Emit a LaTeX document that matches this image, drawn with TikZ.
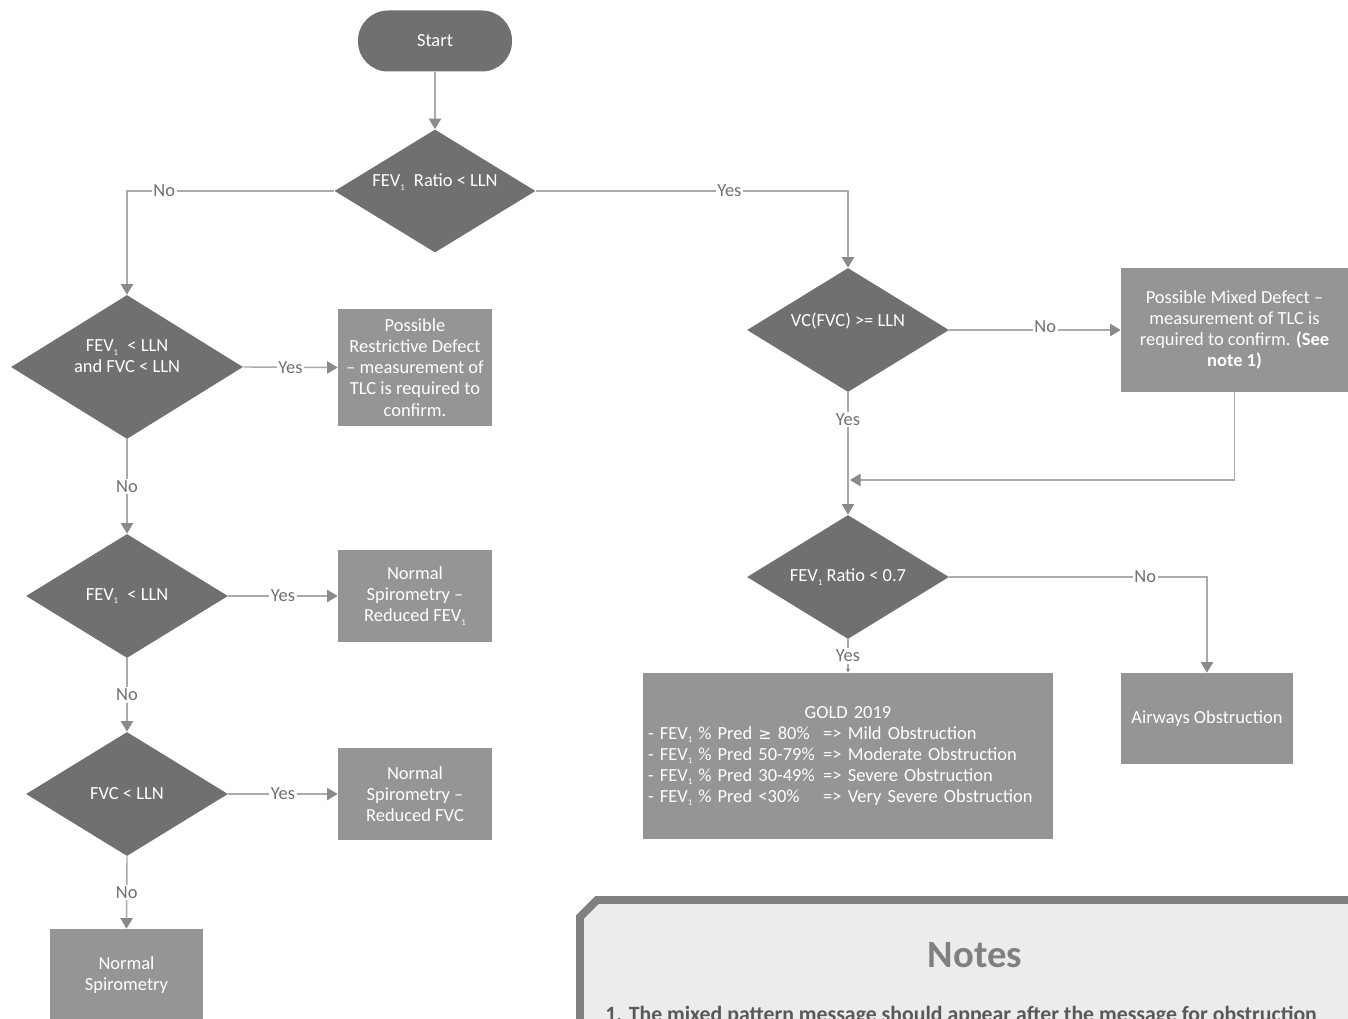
\documentclass[tikz,border=0pt]{standalone}
\usepackage{fontspec}
\setmainfont{Carlito}
\newfontfamily\symfont{DejaVu Sans}
\usetikzlibrary{arrows.meta, shapes.geometric, positioning}
\definecolor{DiamondGray}{RGB}{112,112,112}
\definecolor{BoxGray}{RGB}{149,149,149}
\definecolor{LineGray}{RGB}{170,170,170}
\definecolor{TipGray}{RGB}{138,138,138}
\definecolor{LabelGray}{RGB}{112,112,112}
\definecolor{NoteFill}{RGB}{236,236,236}
\definecolor{NoteEdge}{RGB}{128,128,128}
\definecolor{NoteText}{RGB}{89,89,89}
\newcommand{\fev}{FEV\raisebox{-0.4ex}{\fontsize{5}{5}\selectfont 1}}
\newcommand{\golditem}[2]{- \makebox[93pt][l]{\fev\ \% Pred #1}=> #2}

\begin{document}
\begin{tikzpicture}[
    font=\fontsize{10.5}{12}\selectfont,
    terminal/.style={rectangle, rounded corners=0.6cm, fill=DiamondGray, text=white,
      minimum width=3.08cm, minimum height=1.22cm},
    decision/.style={diamond, fill=DiamondGray, text=white, align=center, inner sep=0pt,
      shape aspect=1.63, minimum width=4.04cm, minimum height=2.48cm},
    result/.style={rectangle, fill=BoxGray, text=white, align=center, inner sep=2pt,
      minimum width=3.08cm, minimum height=1.84cm},
    arrow/.style={-{Triangle[width=7pt,length=6pt,color=TipGray]}, LineGray, line width=0.8pt},
    lbl/.style={fill=white, text=LabelGray, inner sep=1pt}
  ]
  \useasboundingbox (0,0) rectangle (26.96,-20.38);
  \clip (0,0) rectangle (26.96,-20.38);
  \fill[white] (0,0) rectangle (26.96,-20.38);

  % left column
  \node[terminal] (start) at (8.70,-0.82) {Start};
  \node[decision, minimum width=4.02cm, minimum height=2.46cm] (ratio) at (8.70,-3.82)
    {\fev\enspace Ratio < LLN\\\mbox{}};
  \node[decision, minimum width=4.64cm, minimum height=2.88cm] (both) at (2.54,-7.34)
    {\fev\enspace < LLN\\and FVC < LLN\\\mbox{}};
  \node[result, minimum height=2.34cm] (restrict) at (8.30,-7.35)
    {Possible\\Restrictive Defect\\– measurement of\\TLC is required to\\confirm.};
  \node[decision] (fevlow) at (2.54,-11.92) {\fev\enspace < LLN};
  \node[result] (redfev) at (8.30,-11.92) {Normal\\Spirometry –\\Reduced \fev};
  \node[decision] (fvclow) at (2.54,-15.88) {FVC < LLN};
  \node[result] (redfvc) at (8.30,-15.88) {Normal\\Spirometry –\\Reduced FVC};
  \node[result, minimum width=3.06cm] (normal) at (2.53,-19.50) {Normal\\Spirometry};

  % right column
  \node[decision] (vc) at (16.96,-6.60) {VC(FVC) >= LLN\\\mbox{}};
  \node[result, minimum width=4.54cm, minimum height=2.48cm] (mixed) at (24.69,-6.60)
    {Possible Mixed Defect –\\measurement of TLC is\\required to confirm. \textbf{(See}\\\textbf{note 1)}};
  \coordinate (join) at (17.00,-9.60);
  \node[decision] (ratio7) at (16.96,-11.54) {\fev\ Ratio < 0.7};
  \node[result, minimum width=8.2cm, minimum height=3.32cm, text width=8.0cm, align=left] (gold) at (16.96,-15.12)
    {\makebox[8.0cm]{GOLD 2019}\\
     \golditem{{\symfont\small ≥} 80\%}{Mild Obstruction}\\
     \golditem{50-79\%}{Moderate Obstruction}\\
     \golditem{30-49\%}{Severe Obstruction}\\
     \golditem{<30\%}{Very Severe Obstruction}};
  \node[result, minimum width=3.44cm, minimum height=1.82cm] (airways) at (24.14,-14.37) {Airways Obstruction};

  % connectors
  \draw[arrow] (start) -- (ratio);
  \draw[arrow] (ratio.west) -| node[lbl, pos=0.41] {No} (both.north);
  \draw[arrow] (ratio.east) -| node[lbl, pos=0.31] {Yes} (vc.north);
  \draw[arrow] (both.east) -- node[lbl] {Yes} (restrict.west);
  \draw[arrow] (both.south) -- node[lbl] {No} (fevlow.north);
  \draw[arrow] (fevlow.east) -- node[lbl] {Yes} (redfev.west);
  \draw[arrow] (fevlow.south) -- node[lbl] {No} (fvclow.north);
  \draw[arrow] (fvclow.east) -- node[lbl] {Yes} (redfvc.west);
  \draw[arrow] (fvclow.south) -- node[lbl] {No} (normal.north);
  \draw[arrow] (vc.east) -- node[lbl, pos=0.56, yshift=2pt] {No} (mixed.west);
  \draw[arrow] (vc.south) -- node[lbl, pos=0.22] {Yes} (ratio7.north);
  \draw[arrow] (mixed.south) |- (join);
  \draw[arrow] (ratio7.east) -| node[lbl, pos=0.38] {No} (airways.north);
  \draw[-{Triangle[width=2pt,length=2pt,color=TipGray]}, LineGray, line width=0.8pt]
    (ratio7.south) -- node[lbl] {Yes} (gold.north);

  % notes panel
  \draw[fill=NoteFill, draw=NoteEdge, line width=4.5pt]
    (11.60,-21.0) -- (11.60,-18.34) -- (11.94,-18.00) -- (27.3,-18.00) -- (27.3,-21.0) -- cycle;
  \node[text=NoteEdge, font=\bfseries\fontsize{22}{26}\selectfont] (notestitle) at (19.50,-19.10) {Notes};
  \node[anchor=base west, inner sep=0pt, text=NoteText, font=\bfseries\fontsize{12.4}{14}\selectfont] (note1)
    at (12.10,-20.42) {1. The mixed pattern message should appear after the message for obstruction};
\end{tikzpicture}
\end{document}
